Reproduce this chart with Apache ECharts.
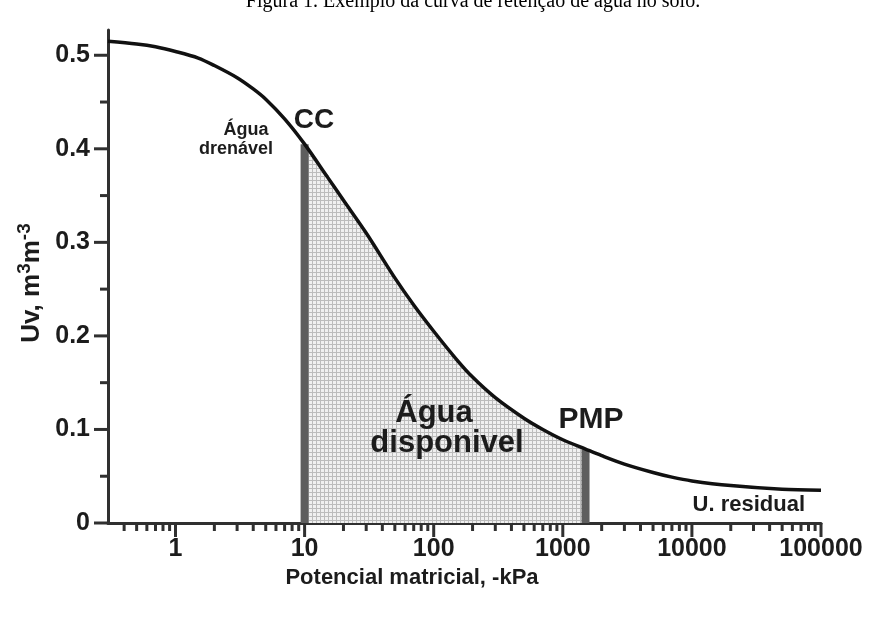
<!DOCTYPE html>
<html><head><meta charset="utf-8">
<script src="https://cdn.jsdelivr.net/npm/echarts@6/dist/echarts.min.js"></script>
<style>html,body{margin:0;padding:0;background:#fff}#c{width:875px;height:622px}</style>
</head><body><div id="c"></div><script>
// ---- data ----
const potential = [0.3, 0.5, 0.7, 1, 1.5, 2, 3, 4, 5, 7, 10, 15, 20, 30, 50, 70, 100, 150, 200, 300, 500, 700, 1000, 1500, 2000, 3000, 5000, 7000, 10000, 20000, 50000, 100000];
const moisture  = [0.515, 0.512, 0.509, 0.504, 0.497, 0.489, 0.476, 0.464, 0.453, 0.432, 0.405, 0.370, 0.345, 0.310, 0.262, 0.233, 0.205, 0.175, 0.156, 0.134, 0.112, 0.100, 0.089, 0.079, 0.072, 0.063, 0.054, 0.049, 0.045, 0.040, 0.036, 0.035];
const ccPotential = 10;      // capacidade de campo
const pmpPotential = 1500;   // ponto de murcha permanente
const xMajorTicks = [1, 10, 100, 1000, 10000, 100000];
const xTickLabels = ['1', '10', '100', '1000', '10000', '100000'];
const xMinorTicks = [0.4, 0.5, 0.6, 0.7, 0.8, 0.9,
  2, 3, 4, 5, 6, 7, 8, 9,
  20, 30, 40, 50, 60, 70, 80, 90,
  200, 300, 400, 500, 600, 700, 800, 900,
  2000, 3000, 4000, 5000, 6000, 7000, 8000, 9000,
  20000, 30000, 40000, 50000, 60000, 70000, 80000, 90000];
const yMajorTicks = [0, 0.1, 0.2, 0.3, 0.4, 0.5];
const yTickLabels = ['0', '0.1', '0.2', '0.3', '0.4', '0.5'];
const yMinorTicks = [0.05, 0.15, 0.25, 0.35, 0.45];
const titleText = 'Figura 1. Exemplo da curva de retenção de água no solo.';
const xName = 'Potencial matricial, -kPa';

const X_MIN = 0.3, X_MAX = 100000, Y_MIN = 0, Y_MAX = 0.527;
const SANS = '"Liberation Sans", Arial, sans-serif';
const TICKFONT = 'bold 25px ' + SANS;
const INK = '#1c1c1c';
const AXIS = '#303030';

const curve = potential.map((p, i) => [p, moisture[i]]);
const available = curve.filter(d => d[0] >= ccPotential && d[0] <= pmpPotential);
const ccY = moisture[potential.indexOf(ccPotential)];
const pmpY = moisture[potential.indexOf(pmpPotential)];

// dotted grid pattern for the available-water area
const pat = document.createElement('canvas');
pat.width = 4; pat.height = 4;
const pctx = pat.getContext('2d');
pctx.fillStyle = '#f0f0f0'; pctx.fillRect(0, 0, 4, 4);
pctx.fillStyle = '#bcbcbc'; pctx.fillRect(0, 0, 4, 1); pctx.fillRect(0, 0, 1, 4);

const xTickData = xMajorTicks.map((v, i) => [v, Y_MIN, 1, i]).concat(xMinorTicks.map(v => [v, Y_MIN, 0, -1]));
const yTickData = yMajorTicks.map((v, i) => [X_MIN, v, 1, i]).concat(yMinorTicks.map(v => [X_MIN, v, 0, -1]));

function label(x, y, text, size, align) {
  return {type: 'text', z: 100, x: x, y: y, style: {text: text, font: 'bold ' + size + 'px ' + SANS, fill: INK, align: align || 'center', verticalAlign: 'middle'}};
}

const chart = echarts.init(document.getElementById('c'), null, {renderer: 'canvas'});
chart.setOption({
  animation: false,
  backgroundColor: '#fff',
  grid: {left: 108, right: 54, top: 30, bottom: 99},
  xAxis: {type: 'log', logBase: 10, min: X_MIN, max: X_MAX,
    axisLine: {show: true, lineStyle: {color: AXIS, width: 3}},
    axisTick: {show: false}, axisLabel: {show: false}, splitLine: {show: false}, minorTick: {show: false}},
  yAxis: {type: 'value', min: Y_MIN, max: Y_MAX,
    axisLine: {show: true, lineStyle: {color: AXIS, width: 3}},
    axisTick: {show: false}, axisLabel: {show: false}, splitLine: {show: false}},
  graphic: [
    {type: 'text', z: 100, x: 473, y: 2, style: {text: titleText, font: '20px "Liberation Serif", "Times New Roman", serif', fill: '#000', align: 'center', verticalAlign: 'middle'}},
    label(412, 578, xName, 22),
    {type: 'text', z: 100, x: 30, y: 283, rotation: Math.PI / 2, style: {
      text: '{a|Uv, m}{s|3}{a|m}{s|-3}', fill: INK, align: 'center', verticalAlign: 'middle',
      rich: {a: {font: 'bold 26px ' + SANS, fill: INK, verticalAlign: 'bottom', lineHeight: 30},
             s: {font: 'bold 19px ' + SANS, fill: INK, verticalAlign: 'top', lineHeight: 30}}}},
    label(246, 130, 'Água', 18),
    label(236, 149, 'drenável', 18),
    label(314, 120, 'CC', 28),
    label(434, 413, 'Água', 31),
    label(447, 443, 'disponivel', 31),
    label(591, 420, 'PMP', 30),
    label(805, 505, 'U. residual', 22, 'right')
  ],
  series: [
    {type: 'line', data: available, smooth: 0.3, symbol: 'none', z: 1,
      lineStyle: {width: 0}, areaStyle: {color: {image: pat, repeat: 'repeat'}, opacity: 1}},
    {type: 'line', data: [[ccPotential, Y_MIN], [ccPotential, ccY]], symbol: 'none', z: 3,
      lineStyle: {color: '#5e5e5e', width: 8, cap: 'butt'}},
    {type: 'line', data: [[pmpPotential, Y_MIN], [pmpPotential, pmpY]], symbol: 'none', z: 3,
      lineStyle: {color: '#5e5e5e', width: 8, cap: 'butt'}},
    {type: 'line', data: curve, smooth: 0.3, symbol: 'none', z: 4,
      lineStyle: {color: '#111', width: 3.5}},
    {type: 'custom', z: 5, clip: false, silent: true, data: xTickData,
      renderItem: (params, api) => {
        const major = api.value(2) === 1, idx = api.value(3);
        const p = api.coord([api.value(0), Y_MIN]);
        const ch = [{type: 'line', shape: {x1: p[0], y1: p[1], x2: p[0], y2: p[1] + (major ? 14 : 8)}, style: {stroke: AXIS, lineWidth: 3}}];
        if (major) ch.push({type: 'text', x: p[0], y: p[1] + 26, style: {text: xTickLabels[idx], font: TICKFONT, fill: INK, align: 'center', verticalAlign: 'middle'}});
        return {type: 'group', children: ch};
      }},
    {type: 'custom', z: 5, clip: false, silent: true, data: yTickData,
      renderItem: (params, api) => {
        const major = api.value(2) === 1, idx = api.value(3);
        const p = api.coord([X_MIN, api.value(1)]);
        const ch = [{type: 'line', shape: {x1: p[0] - (major ? 14 : 8), y1: p[1], x2: p[0], y2: p[1]}, style: {stroke: AXIS, lineWidth: 3}}];
        if (major) ch.push({type: 'text', x: p[0] - 18, y: p[1], style: {text: yTickLabels[idx], font: TICKFONT, fill: INK, align: 'right', verticalAlign: 'middle'}});
        return {type: 'group', children: ch};
      }}
  ]
});
</script></body></html>
